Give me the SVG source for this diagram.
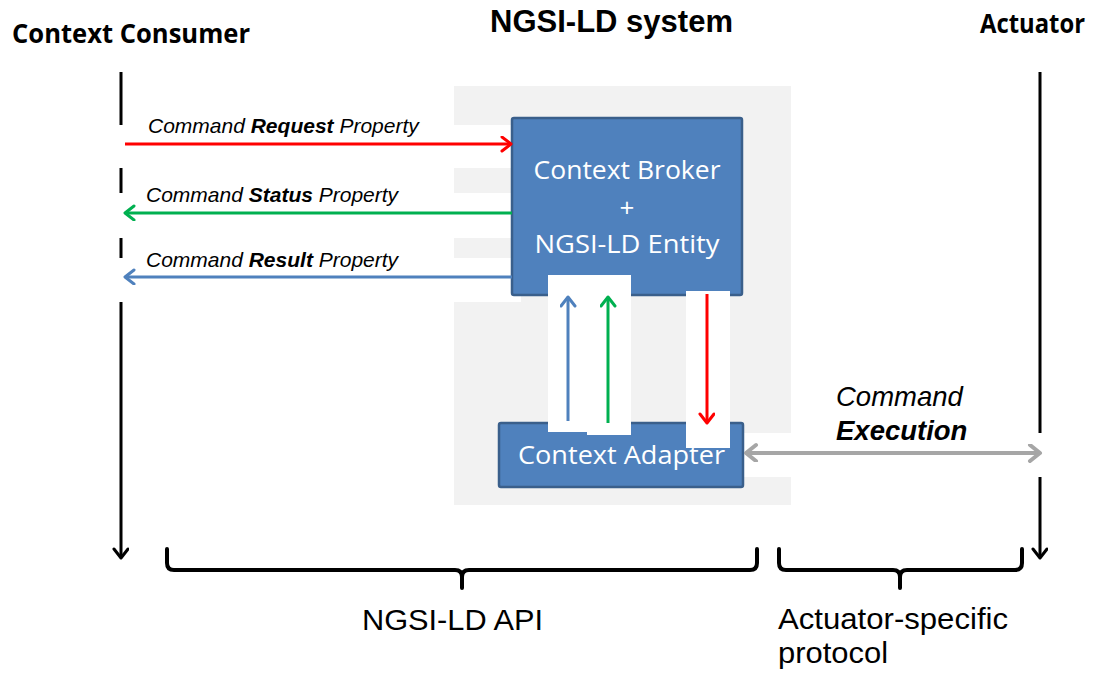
<svg xmlns="http://www.w3.org/2000/svg" width="1100" height="673" viewBox="0 0 1100 673">
<defs>
<style>
.box{fill:#4F81BD;stroke:#3A5F8B;stroke-width:2.5}
.boxt{font-family:"Open Sans","Liberation Sans",sans-serif;font-size:26px;fill:#FFFFFF}
.lbl{font-family:"Liberation Sans",Arial,sans-serif;font-size:21px;font-style:italic;fill:#000}
.hd{font-family:"Open Sans","Liberation Sans",sans-serif;font-size:27px;font-weight:700;fill:#000}
.big{font-family:"Liberation Sans",Arial,sans-serif;font-size:30px;fill:#000}
.ln{fill:none;stroke-width:3}
.brace{fill:none;stroke:#000;stroke-width:4;stroke-linecap:round;stroke-linejoin:round}
</style>
<marker id="mRed" markerUnits="userSpaceOnUse" markerWidth="20" markerHeight="20" refX="12" refY="8" orient="auto"><path d="M3,1 L12,8 L3,15" fill="none" stroke="#FF0000" stroke-width="3" stroke-linecap="round" stroke-linejoin="round"/></marker>
<marker id="mGreen" markerUnits="userSpaceOnUse" markerWidth="20" markerHeight="20" refX="12" refY="8" orient="auto"><path d="M3,1 L12,8 L3,15" fill="none" stroke="#00B050" stroke-width="3" stroke-linecap="round" stroke-linejoin="round"/></marker>
<marker id="mBlue" markerUnits="userSpaceOnUse" markerWidth="20" markerHeight="20" refX="12" refY="8" orient="auto"><path d="M3,1 L12,8 L3,15" fill="none" stroke="#4F81BD" stroke-width="3" stroke-linecap="round" stroke-linejoin="round"/></marker>
<marker id="mGray" markerUnits="userSpaceOnUse" markerWidth="22" markerHeight="22" refX="13" refY="9" orient="auto-start-reverse"><path d="M3,1 L13,9 L3,17" fill="none" stroke="#A6A6A6" stroke-width="4" stroke-linecap="round" stroke-linejoin="round"/></marker>
<marker id="mBlack" markerUnits="userSpaceOnUse" markerWidth="20" markerHeight="20" refX="12" refY="8" orient="auto"><path d="M3,1 L12,8 L3,15" fill="none" stroke="#000" stroke-width="3" stroke-linecap="round" stroke-linejoin="round"/></marker>
</defs>
<rect width="1100" height="673" fill="#FFFFFF"/>

<g id="system-background">
<rect x="454" y="86" width="337" height="419" fill="#F2F2F2"/>
</g>

<g id="lifelines">
<line x1="121" y1="72" x2="121" y2="558" stroke="#000" stroke-width="3" marker-end="url(#mBlack)"/>
<line x1="1040" y1="72" x2="1040" y2="558" stroke="#000" stroke-width="3" marker-end="url(#mBlack)"/>
</g>

<g id="label-backgrounds" fill="#FFFFFF">
<rect x="118" y="125" width="394" height="43"/>
<rect x="118" y="193" width="394" height="45"/>
<rect x="118" y="258" width="403" height="44"/>
<rect x="743" y="433" width="303" height="44"/>
</g>

<g id="context-broker">
<rect class="box" x="512" y="118" width="230" height="177" rx="2"/>
<text class="boxt" x="627" y="179" text-anchor="middle" textLength="187" lengthAdjust="spacingAndGlyphs">Context Broker</text>
<text class="boxt" x="627" y="217" text-anchor="middle">+</text>
<text class="boxt" x="627" y="253" text-anchor="middle" textLength="185" lengthAdjust="spacingAndGlyphs">NGSI-LD Entity</text>
</g>

<g id="context-adapter">
<rect class="box" x="499" y="423" width="244" height="64" rx="2"/>
<text class="boxt" x="621.5" y="464" text-anchor="middle" textLength="207" lengthAdjust="spacingAndGlyphs">Context Adapter</text>
</g>

<g id="arrow-backgrounds" fill="#FFFFFF">
<rect x="548" y="275" width="39" height="157"/>
<rect x="587" y="275" width="44" height="160"/>
<rect x="686" y="291" width="44" height="157"/>
</g>

<g id="connectors">
<line class="ln" x1="125" y1="144" x2="511" y2="144" stroke="#FF0000" marker-end="url(#mRed)"/>
<line class="ln" x1="512" y1="213" x2="125" y2="213" stroke="#00B050" marker-end="url(#mGreen)"/>
<line class="ln" x1="512" y1="277" x2="125" y2="277" stroke="#4F81BD" marker-end="url(#mBlue)"/>
<line class="ln" x1="568" y1="421" x2="568" y2="297" stroke="#4F81BD" marker-end="url(#mBlue)"/>
<line class="ln" x1="608" y1="423" x2="608" y2="297" stroke="#00B050" marker-end="url(#mGreen)"/>
<line class="ln" x1="707" y1="294" x2="707" y2="423" stroke="#FF0000" marker-end="url(#mRed)"/>
<line x1="746" y1="453" x2="1040" y2="453" stroke="#A6A6A6" stroke-width="4" marker-start="url(#mGray)" marker-end="url(#mGray)"/>
</g>

<g id="connector-labels">
<text class="lbl" x="148" y="133">Command <tspan font-weight="700">Request</tspan> Property</text>
<text class="lbl" x="146" y="202">Command <tspan font-weight="700">Status</tspan> Property</text>
<text class="lbl" x="146" y="267">Command <tspan font-weight="700">Result</tspan> Property</text>
<text class="lbl" x="836" y="406" style="font-size:27.5px">Command</text>
<text class="lbl" x="836" y="440" style="font-size:27.5px;font-weight:700">Execution</text>
</g>

<g id="headers">
<text class="hd" x="12" y="43" textLength="238" lengthAdjust="spacingAndGlyphs">Context Consumer</text>
<text class="hd" x="980" y="33" textLength="105" lengthAdjust="spacingAndGlyphs">Actuator</text>
<text x="490" y="32" font-family="'Liberation Sans',Arial,sans-serif" font-size="31" font-weight="700" textLength="243" lengthAdjust="spacingAndGlyphs">NGSI-LD system</text>
</g>

<g id="braces">
<path class="brace" d="M167,549 L167,563 Q167,570 174,570 L455,570 Q462,570 462,577 L462,588 M462,577 Q462,570 469,570 L750,570 Q757,570 757,563 L757,549"/>
<path class="brace" d="M779,549 L779,563 Q779,570 786,570 L893,570 Q900,570 900,577 L900,588 M900,577 Q900,570 907,570 L1015,570 Q1022,570 1022,563 L1022,549"/>
<text class="big" x="362" y="630" textLength="181" lengthAdjust="spacingAndGlyphs">NGSI-LD API</text>
<text class="big" x="778" y="629" textLength="230" lengthAdjust="spacingAndGlyphs">Actuator-specific</text>
<text class="big" x="778" y="663" textLength="110" lengthAdjust="spacingAndGlyphs">protocol</text>
</g>
</svg>
